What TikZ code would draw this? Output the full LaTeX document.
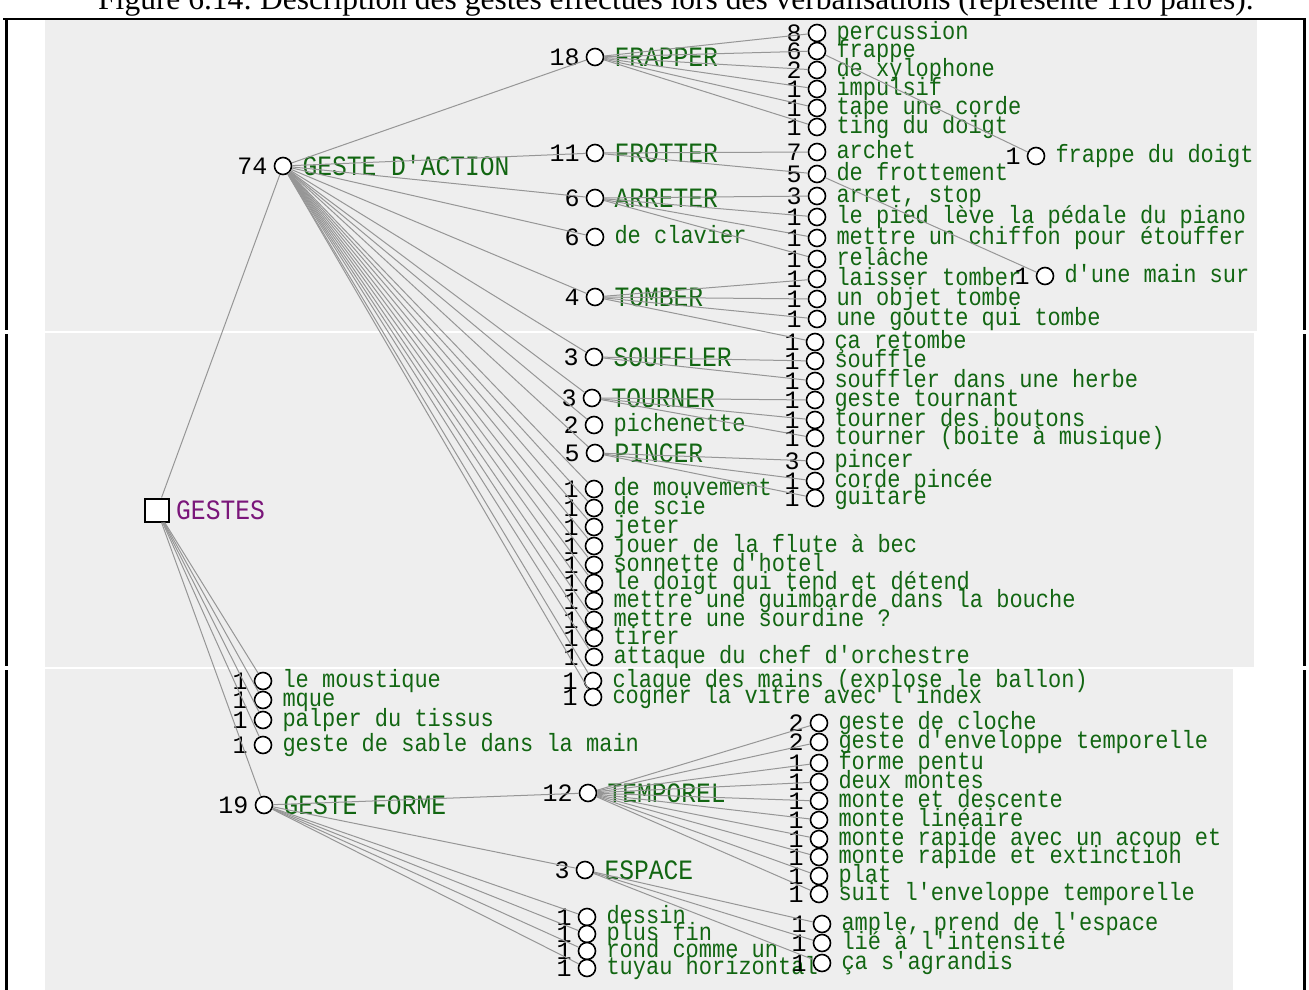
\documentclass[tikz,border=0pt]{standalone}
\usepackage{fontspec}
\setmainfont{Liberation Serif}
\newfontfamily\pixfont[FakeStretch=0.88]{Liberation Mono}
\newfontfamily\numfont{Liberation Mono}
\usetikzlibrary{positioning}
\definecolor{leafgreen}{RGB}{18,102,18}
\definecolor{rootpurple}{RGB}{122,22,122}
\definecolor{linkgray}{RGB}{150,150,150}
\definecolor{panelgray}{RGB}{238,238,238}
\tikzset{
  dot/.style={circle, draw=black, line width=1.6pt, fill=white, minimum size=17pt, inner sep=0pt},
  box/.style={rectangle, draw=black, line width=2pt, fill=white, minimum width=24pt, minimum height=23pt, inner sep=0pt},
  cnt/.style={font=\numfont\fontsize{25}{25}\selectfont, text=black, inner sep=0pt, text height=16.5pt, text depth=0pt},
  txt/.style={font=\pixfont\fontsize{25}{25}\selectfont, text=leafgreen, inner sep=0pt, text height=13pt, text depth=0pt},
  cat/.style={font=\pixfont\fontsize{28}{28}\selectfont, text=leafgreen, inner sep=0pt, text height=18.5pt, text depth=0pt},
  rootlab/.style={cat, text=rootpurple},
  link/.style={draw=linkgray, line width=1pt},
  frame/.style={draw=black, line width=2.5pt}
}

\begin{document}
\begin{tikzpicture}[x=1pt, y=-1pt]
\useasboundingbox (0,0) rectangle (1309,990);
\clip (0,0) rectangle (1309,990);
% the three screen shots
\fill[panelgray] (45,20) rectangle (1257,331);
\fill[panelgray] (45,333) rectangle (1254,667);
\fill[panelgray] (45,669) rectangle (1233,990);
\draw[frame] (3,19) -- (1306,19);
\draw[frame, line width=3pt] (6,19) -- (6,330) (6,334) -- (6,666) (6,670) -- (6,990);
\draw[frame, line width=3pt] (1304,19) -- (1304,330) (1304,334) -- (1304,666) (1304,670) -- (1304,990);
\node[font=\fontsize{31.5}{31.5}\selectfont, anchor=base, inner sep=0pt] (caption) at (676,10)
  {\underline{Figure 6.14:} Description des gestes effectués lors des verbalisations (représente 110 paires).};

% root
\node[box] (gestes) at (157,510) {};
\node[rootlab, right=6pt of gestes] (gestes-t) {GESTES};

% categories
\foreach \nm/\px/\py/\num/\lab in {
  action/283/166/74/{GESTE D'ACTION},
  forme/264/805/19/{GESTE FORME},
  FRAP/595/57/18/FRAPPER,
  FROT/595/153/11/FROTTER,
  ARRE/595/198/6/ARRETER,
  TOMB/595/297/4/TOMBER,
  SOUF/594/357/3/SOUFFLER,
  TOUR/592/398/3/TOURNER,
  PINC/595/453/5/PINCER,
  TEMP/588/793/12/TEMPOREL,
  ESPA/585/870/3/ESPACE}
{
  \node[dot] (\nm) at (\px,\py) {};
  \node[cnt, left=6pt of \nm] (\nm-n) {\num};
  \node[cat, right=10pt of \nm] (\nm-t) {\lab};
}

% leaves
\foreach \nm/\px/\py/\num/\lab in {
  per/817/33/8/percussion,
  fra/817/51/6/frappe,
  xyl/817/70/2/de xylophone,
  imp/817/89/1/impulsif,
  tap/817/108/1/tape une corde,
  tin/817/127/1/ting du doigt,
  arc/817/152/7/archet,
  frt/817/174/5/de frottement,
  arr/817/196/3/{arret, stop},
  pie/817/217/1/le pied lève la pédale du piano,
  chi/817/238/1/mettre un chiffon pour étouffer,
  rel/817/259/1/relâche,
  lai/817/279/1/laisser tomber,
  obj/817/299/1/un objet tombe,
  gou/817/319/1/une goutte qui tombe,
  ret/815/342/1/ça retombe,
  sfl/815/361/1/souffle,
  her/815/381/1/souffler dans une herbe,
  gto/815/400/1/geste tournant,
  bou/815/420/1/tourner des boutons,
  boi/815/438/1/{tourner (boite à musique)},
  pin/815/461/3/pincer,
  cor/815/481/1/corde pincée,
  gui/815/498/1/guitare,
  fdo/1036/156/1/frappe du doigt,
  mai/1045/276/1/d'une main sur,
  clav/595/237/6/de clavier,
  pich/594/425/2/pichenette,
  mvt/594/489/1/de mouvement,
  sci/594/508/1/de scie,
  jet/594/527/1/jeter,
  flu/594/546/1/jouer de la flute à bec,
  son/594/565/1/sonnette d'hotel,
  doi/594/583/1/le doigt qui tend et détend,
  gim/594/601/1/mettre une guimbarde dans la bouche,
  sou/594/620/1/mettre une sourdine ?,
  tir/594/638/1/tirer,
  att/594/657/1/attaque du chef d'orchestre,
  cla/593/681/1/{claque des mains (explose le ballon)},
  cog/593/697/1/cogner la vitre avec l'index,
  mou/263/681/1/le moustique,
  mqu/263/700/1/mque,
  pal/263/720/1/palper du tissus,
  sab/263/745/1/geste de sable dans la main,
  des/587/917/1/dessin,
  plu/587/934/1/plus fin,
  ron/587/951/1/rond comme un,
  tuy/587/968/1/tuyau horizontal,
  clo/819/723/2/geste de cloche,
  env/819/742/2/geste d'enveloppe temporelle,
  pen/819/763/1/forme pentu,
  deu/819/782/1/deux montes,
  mde/819/801/1/monte et descente,
  mli/819/820/1/monte linéaire,
  mac/819/839/1/monte rapide avec un acoup et,
  mex/819/857/1/monte rapide et extinction,
  pla/819/876/1/plat,
  sui/819/894/1/suit l'enveloppe temporelle,
  amp/822/924/1/{ample, prend de l'espace},
  lie/822/943/1/lié à l'intensité,
  agr/822/963/1/ça s'agrandis}
{
  \node[dot] (\nm) at (\px,\py) {};
  \node[cnt, left=6pt of \nm] (\nm-n) {\num};
  \node[txt, right=10pt of \nm] (\nm-t) {\lab};
}

% links
\foreach \a/\b in {gestes/action, gestes/mou, gestes/mqu, gestes/pal, gestes/sab, gestes/forme,
  FRAP/per, FRAP/fra, FRAP/xyl, FRAP/imp, FRAP/tap, FRAP/tin,
  FROT/arc, FROT/frt, fra/fdo, frt/mai,
  ARRE/arr, ARRE/pie, ARRE/chi, ARRE/rel,
  TOMB/lai, TOMB/obj, TOMB/gou, TOMB/ret,
  SOUF/sfl, SOUF/her, TOUR/gto, TOUR/bou, TOUR/boi,
  PINC/pin, PINC/cor, PINC/gui,
  forme/TEMP, forme/ESPA, forme/des, forme/plu, forme/ron, forme/tuy,
  ESPA/amp, ESPA/lie, ESPA/agr}
{
  \draw[link] (\a) -- (\b);
}
\foreach \b in {FRAP, FROT, ARRE, clav, TOMB, SOUF, TOUR, pich, PINC,
  mvt, sci, jet, flu, son, doi, gim, sou, tir, att, cla, cog}
  \draw[link] (action) -- (\b);
\foreach \b in {clo, env, pen, deu, mde, mli, mac, mex, pla, sui}
  \draw[link] (TEMP) -- (\b);
\end{tikzpicture}
\end{document}
